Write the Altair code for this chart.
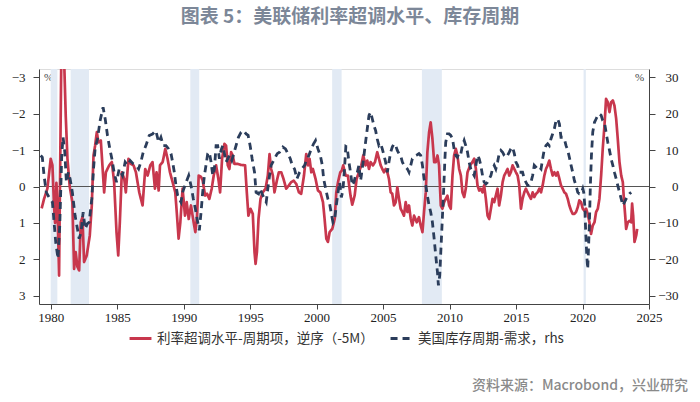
import altair as alt
import pandas as pd

TITLE = "图表 5：美联储利率超调水平、库存周期"
SOURCE = "资料来源：Macrobond，兴业研究"
RED_NAME = "利率超调水平-周期项，逆序（-5M）"
BLUE_NAME = "美国库存周期-需求，rhs"

# Recession shading (decimal years)
rec_start = [1980.0, 1981.5, 1990.5, 2001.17, 2007.92, 2020.08]
rec_end = [1980.5, 1982.88, 1991.17, 2001.88, 2009.42, 2020.25]

x_ticks = [1980, 1985, 1990, 1995, 2000, 2005, 2010, 2015, 2020, 2025]
left_ticks = [-3, -2, -1, 0, 1, 2, 3]
right_ticks = [30, 20, 10, 0, -10, -20, -30]

# Red series: rate overshoot level, cyclical component, inverted (left axis, %)
red_years = [
    1979.32, 1979.50, 1979.75, 1980.00, 1980.13, 1980.25, 1980.33, 1980.43, 1980.50, 1980.63,
    1980.70, 1980.80, 1981.00, 1981.13, 1981.26, 1981.43, 1981.63, 1981.76, 1981.88, 1982.01,
    1982.14, 1982.26, 1982.39, 1982.51, 1982.71, 1982.94, 1983.09, 1983.22, 1983.34, 1983.47,
    1983.59, 1983.77, 1983.89, 1984.02, 1984.15, 1984.40, 1984.60, 1984.77, 1984.95, 1985.08,
    1985.20, 1985.35, 1985.53, 1985.65, 1985.85, 1986.03, 1986.23, 1986.41, 1986.66, 1986.91,
    1987.11, 1987.29, 1987.49, 1987.66, 1987.84, 1987.96, 1988.12, 1988.22, 1988.42, 1988.62,
    1988.79, 1988.97, 1989.17, 1989.37, 1989.50, 1989.62, 1989.75, 1989.92, 1990.10, 1990.23,
    1990.38, 1990.55, 1990.75, 1990.88, 1991.01, 1991.13, 1991.31, 1991.43, 1991.61, 1991.76,
    1991.93, 1992.11, 1992.26, 1992.44, 1992.61, 1992.74, 1992.89, 1993.07, 1993.19, 1993.32,
    1993.44, 1993.57, 1993.69, 1993.82, 1994.07, 1994.32, 1994.62, 1994.75, 1994.87, 1995.03,
    1995.20, 1995.33, 1995.41, 1995.51, 1995.63, 1995.78, 1995.95, 1996.16, 1996.33, 1996.46,
    1996.58, 1996.71, 1996.83, 1997.01, 1997.16, 1997.34, 1997.51, 1997.71, 1997.91, 1998.09,
    1998.27, 1998.47, 1998.67, 1998.84, 1999.05, 1999.22, 1999.35, 1999.47, 1999.60, 1999.72,
    1999.92, 2000.10, 2000.28, 2000.48, 2000.60, 2000.73, 2000.85, 2000.98, 2001.18, 2001.36,
    2001.48, 2001.61, 2001.78, 2001.90, 2002.00, 2002.18, 2002.35, 2002.55, 2002.68, 2002.86,
    2003.01, 2003.18, 2003.36, 2003.51, 2003.68, 2003.81, 2003.94, 2004.06, 2004.24, 2004.39,
    2004.56, 2004.69, 2004.82, 2004.94, 2005.07, 2005.19, 2005.32, 2005.44, 2005.57, 2005.69,
    2005.82, 2005.95, 2006.07, 2006.20, 2006.32, 2006.45, 2006.57, 2006.70, 2006.83, 2006.95,
    2007.08, 2007.20, 2007.33, 2007.53, 2007.70, 2007.83, 2007.96, 2008.08, 2008.21, 2008.33,
    2008.46, 2008.58, 2008.71, 2008.84, 2008.96, 2009.09, 2009.21, 2009.34, 2009.46, 2009.59,
    2009.71, 2009.84, 2009.97, 2010.09, 2010.22, 2010.34, 2010.47, 2010.59, 2010.72, 2010.85,
    2010.97, 2011.10, 2011.22, 2011.35, 2011.55, 2011.72, 2011.85, 2011.98, 2012.10, 2012.23,
    2012.35, 2012.48, 2012.60, 2012.73, 2012.86, 2012.98, 2013.11, 2013.23, 2013.36, 2013.48,
    2013.61, 2013.73, 2013.86, 2013.99, 2014.11, 2014.24, 2014.36, 2014.49, 2014.61, 2014.74,
    2014.87, 2014.99, 2015.12, 2015.24, 2015.37, 2015.49, 2015.62, 2015.74, 2015.87, 2015.99,
    2016.12, 2016.25, 2016.37, 2016.50, 2016.62, 2016.75, 2016.88, 2017.00, 2017.13, 2017.25,
    2017.38, 2017.50, 2017.63, 2017.75, 2017.88, 2018.01, 2018.13, 2018.26, 2018.38, 2018.51,
    2018.63, 2018.76, 2018.89, 2019.01, 2019.14, 2019.26, 2019.39, 2019.51, 2019.64, 2019.76,
    2019.89, 2020.02, 2020.14, 2020.27, 2020.39, 2020.52, 2020.64, 2020.77, 2020.90, 2021.02,
    2021.15, 2021.27, 2021.40, 2021.52, 2021.65, 2021.77, 2021.90, 2022.03, 2022.15, 2022.28,
    2022.40, 2022.53, 2022.65, 2022.78, 2022.91, 2023.03, 2023.11, 2023.21, 2023.28, 2023.41,
    2023.53, 2023.66, 2023.73, 2023.81, 2023.91, 2024.04, 2024.11,
]
red_vals = [
    0.60, 0.34, 0.06, -0.76, -0.58, 0.52, 1.00, -0.10, 0.43, 2.44,
    -0.12, -3.60, -3.60, -1.95, -0.76, 0.00, 0.43, 2.26, 1.80, 2.20,
    2.30, 0.98, 0.84, 2.07, 1.89, 1.34, 0.52, -0.85, -1.12, -1.49,
    -1.21, -1.26, -0.58, 0.16, -0.39, -0.58, -0.67, -0.12, 1.25, 1.89,
    0.98, -0.39, -0.21, 0.16, -0.76, -0.62, -0.58, -0.39, 0.16, 0.52,
    -0.48, -0.30, -0.58, -0.67, 0.06, -0.39, 0.11, -0.58, -0.67, -1.03,
    -0.76, -0.39, -0.12, 0.16, 0.80, 1.43, 0.98, 0.06, 0.80, 0.43,
    0.89, 0.52, 0.98, 1.25, 0.80, -0.30, -0.26, -0.17, 0.25, 0.20,
    0.34, 0.06, -0.30, -0.58, -0.21, 0.16, -0.76, -1.17, -1.12, -0.58,
    -0.48, -0.94, -0.85, -0.62, -0.62, -0.59, -0.58, 0.16, 0.80, 0.61,
    0.75, 1.80, 2.12, 1.80, 0.89, 0.34, 0.16, 0.06, -0.30, -0.89,
    -0.48, -0.30, 0.16, -0.16, -0.39, -0.39, -0.21, 0.06, -0.03, -0.12,
    -0.16, -0.07, 0.16, 0.20, -0.30, -0.89, -0.58, -0.76, -0.39, -0.48,
    -0.21, 0.11, 0.16, 0.43, 0.89, 1.43, 1.52, 1.25, 1.16, 0.89,
    0.16, -0.12, -0.39, -0.44, -0.58, -0.30, -0.30, 0.25, 0.50, 0.25,
    -0.21, -0.39, -0.58, -0.85, -0.58, -0.71, -0.48, -0.67, -0.58, -0.67,
    -0.94, -0.76, -0.58, -0.48, -0.39, -0.48, -0.39, -0.21, 0.16, 0.20,
    0.52, 0.43, 0.02, 0.34, 0.61, 0.70, 0.80, 0.43, 0.70, 0.52,
    0.89, 1.07, 0.80, 0.98, 0.84, 1.07, 1.25, 0.70, 0.16, -0.94,
    -1.49, -1.76, -1.31, -0.67, -0.67, -0.85, -0.58, 0.52, 0.61, 0.43,
    0.34, 0.25, 0.52, 0.61, -0.30, -0.85, -1.03, -0.85, -0.48, -0.30,
    0.16, 0.29, 0.06, -0.39, -0.58, -0.67, -0.76, -0.48, -0.03, 0.11,
    0.06, 0.16, -0.03, 0.34, 0.80, 0.89, 0.61, 0.34, 0.43, 0.25,
    0.06, 0.52, 0.25, -0.12, -0.30, -0.39, -0.48, -0.30, -0.39, -0.58,
    -0.48, -0.39, -0.30, -0.03, 0.61, 0.34, 0.16, 0.06, 0.16, 0.25,
    0.34, 0.16, 0.29, 0.20, 0.16, 0.06, 0.16, -0.03, -0.30, -0.48,
    -0.58, -0.71, -0.48, -0.30, -0.39, -0.30, -0.39, -0.21, -0.03, 0.06,
    0.16, 0.20, 0.34, 0.52, 0.66, 0.75, 0.75, 0.70, 0.57, 0.38,
    0.43, 0.61, 0.66, 0.61, 0.75, 0.98, 1.30, 1.07, 0.98, 0.70,
    0.61, 0.34, -0.30, -1.03, -1.67, -2.40, -2.31, -2.04, -2.31, -2.36,
    -2.22, -1.86, -1.31, -0.67, -0.30, -0.12, 0.34, 0.80, 1.16, 0.98,
    0.94, 0.98, 0.47, 0.80, 1.52, 1.34, 1.16,
]

# Blue series: US inventory cycle - demand (right axis, %)
blue_years = [
    1979.25, 1979.37, 1979.50, 1979.67, 1979.87, 1980.13, 1980.38, 1980.55, 1980.68, 1980.83,
    1980.93, 1981.06, 1981.18, 1981.33, 1981.46, 1981.63, 1981.83, 1982.01, 1982.14, 1982.29,
    1982.44, 1982.59, 1982.76, 1982.89, 1983.09, 1983.22, 1983.34, 1983.52, 1983.72, 1983.94,
    1984.10, 1984.27, 1984.45, 1984.60, 1984.77, 1984.95, 1985.15, 1985.40, 1985.60, 1985.78,
    1985.98, 1986.21, 1986.41, 1986.61, 1986.78, 1986.96, 1987.16, 1987.41, 1987.66, 1987.91,
    1988.12, 1988.29, 1988.47, 1988.67, 1988.87, 1989.05, 1989.17, 1989.30, 1989.42, 1989.55,
    1989.67, 1989.80, 1989.92, 1990.10, 1990.23, 1990.38, 1990.55, 1990.73, 1990.88, 1991.06,
    1991.18, 1991.31, 1991.43, 1991.56, 1991.68, 1991.81, 1991.93, 1992.06, 1992.19, 1992.31,
    1992.44, 1992.56, 1992.69, 1992.81, 1992.94, 1993.07, 1993.19, 1993.32, 1993.44, 1993.62,
    1993.77, 1993.94, 1994.12, 1994.32, 1994.50, 1994.70, 1994.85, 1995.00, 1995.15, 1995.33,
    1995.45, 1995.63, 1995.75, 1995.90, 1996.08, 1996.21, 1996.33, 1996.46, 1996.58, 1996.83,
    1997.04, 1997.21, 1997.46, 1997.66, 1997.84, 1998.02, 1998.17, 1998.34, 1998.52, 1998.72,
    1998.89, 1999.10, 1999.22, 1999.42, 1999.60, 1999.77, 1999.92, 2000.10, 2000.28, 2000.43,
    2000.53, 2000.68, 2000.85, 2000.98, 2001.13, 2001.23, 2001.36, 2001.48, 2001.61, 2001.73,
    2001.86, 2001.98, 2002.08, 2002.20, 2002.30, 2002.43, 2002.55, 2002.68, 2002.81, 2002.93,
    2003.06, 2003.18, 2003.31, 2003.43, 2003.56, 2003.68, 2003.81, 2003.94, 2004.06, 2004.19,
    2004.31, 2004.44, 2004.56, 2004.69, 2004.82, 2004.94, 2005.07, 2005.19, 2005.32, 2005.44,
    2005.57, 2005.69, 2005.82, 2005.95, 2006.07, 2006.20, 2006.32, 2006.45, 2006.57, 2006.70,
    2006.83, 2006.95, 2007.08, 2007.20, 2007.33, 2007.45, 2007.58, 2007.70, 2007.83, 2007.96,
    2008.08, 2008.21, 2008.33, 2008.46, 2008.58, 2008.71, 2008.84, 2008.96, 2009.09, 2009.16,
    2009.26, 2009.34, 2009.41, 2009.49, 2009.56, 2009.64, 2009.71, 2009.84, 2009.97, 2010.09,
    2010.22, 2010.34, 2010.47, 2010.59, 2010.72, 2010.85, 2010.97, 2011.10, 2011.22, 2011.35,
    2011.47, 2011.60, 2011.72, 2011.85, 2011.98, 2012.10, 2012.23, 2012.35, 2012.48, 2012.60,
    2012.73, 2012.86, 2012.98, 2013.11, 2013.23, 2013.36, 2013.48, 2013.61, 2013.73, 2013.86,
    2013.99, 2014.11, 2014.24, 2014.36, 2014.49, 2014.61, 2014.74, 2014.87, 2014.99, 2015.12,
    2015.24, 2015.37, 2015.49, 2015.62, 2015.74, 2015.87, 2015.99, 2016.12, 2016.25, 2016.37,
    2016.50, 2016.62, 2016.75, 2016.88, 2017.00, 2017.13, 2017.25, 2017.38, 2017.50, 2017.63,
    2017.75, 2017.88, 2018.01, 2018.13, 2018.26, 2018.38, 2018.51, 2018.63, 2018.76, 2018.89,
    2019.01, 2019.14, 2019.26, 2019.39, 2019.51, 2019.64, 2019.76, 2019.89, 2020.02, 2020.09,
    2020.17, 2020.24, 2020.32, 2020.39, 2020.44, 2020.52, 2020.59, 2020.67, 2020.77, 2020.90,
    2021.02, 2021.15, 2021.27, 2021.40, 2021.52, 2021.65, 2021.77, 2021.90, 2022.03, 2022.15,
    2022.28, 2022.40, 2022.53, 2022.65, 2022.78, 2022.91, 2023.03, 2023.16, 2023.28, 2023.41,
    2023.53, 2023.66,
]
blue_vals = [
    8.5, 8.0, 3.0, -1.6, -2.9, -4.3, -15.3, -19.8, -10.7, 8.5,
    13.5, 9.4, 1.2, 3.9, 2.1, -1.6, -7.9, -11.6, -14.3, -12.5,
    -7.0, -11.6, -10.2, -9.8, -3.4, 4.8, 10.3, 13.1, 18.1, 21.7,
    18.5, 14.0, 10.3, 7.6, 3.9, 1.2, 4.8, 3.0, 6.7, 5.8,
    7.1, 6.2, 5.8, 4.8, 6.7, 9.4, 11.2, 14.0, 14.4, 15.3,
    12.1, 13.5, 11.2, 11.2, 10.3, 9.0, 6.7, 3.9, 0.3, -2.5,
    -3.4, -4.3, -1.6, 0.3, 1.6, 3.0, 0.3, -3.4, -6.1, -9.8,
    -12.0, -7.0, -1.6, 3.0, 5.8, 9.0, 9.4, 6.7, 3.0, 4.8,
    11.2, 11.2, 7.6, 9.9, 11.2, 9.0, 6.7, 7.6, 8.5, 7.1,
    9.0, 11.2, 13.5, 14.9, 15.3, 14.4, 14.0, 11.2, 7.6, 3.9,
    -1.6, -2.0, -0.6, -2.0, -3.4, -4.3, -0.6, 3.0, 5.8, 7.6,
    9.0, 9.4, 10.8, 10.3, 9.0, 7.6, 5.8, 4.8, 2.1, 3.9,
    4.8, 5.8, 7.1, 8.5, 10.3, 11.7, 12.6, 10.3, 8.5, 5.8,
    2.1, -0.6, -3.4, -4.7, -7.9, -9.8, -8.9, -5.2, -1.6, 1.2,
    -3.0, -1.0, 4.0, 11.0, 10.8, 6.7, 3.9, 0.3, 1.2, 3.0,
    3.9, 5.8, 1.6, 4.8, 8.5, 12.1, 15.8, 19.5, 20.4, 18.5,
    16.7, 15.3, 13.0, 11.2, 11.7, 10.3, 8.5, 6.7, 3.9, 6.7,
    9.4, 10.8, 11.7, 11.2, 9.9, 9.0, 8.5, 6.7, 5.8, 5.3,
    4.8, 3.9, 5.8, 7.6, 8.0, 8.5, 8.7, 9.0, 8.5, 5.8,
    2.1, 0.3, -2.5, -5.2, -7.0, -9.8, -14.3, -18.9, -23.5, -27.1,
    -24.4, -18.0, -12.5, -6.1, -0.6, 6.7, 12.1, 14.4, 14.4, 14.0,
    13.1, 10.3, 8.5, 8.0, 9.4, 9.0, 11.2, 12.6, 11.2, 9.4,
    6.7, 4.8, 3.9, 3.0, 5.8, 8.5, 7.6, 5.8, 3.0, 1.2,
    0.7, 1.2, 2.1, 3.0, 4.8, 5.8, 4.8, 6.7, 9.0, 9.9,
    9.4, 8.5, 8.0, 8.5, 9.4, 10.3, 10.8, 9.0, 6.7, 5.8,
    3.9, 3.9, 3.9, 2.1, 1.2, 0.3, 0.3, 1.2, 3.0, 5.8,
    5.3, 4.8, 5.3, 4.8, 7.6, 10.3, 11.2, 11.7, 11.2, 13.1,
    14.4, 15.8, 18.1, 18.5, 17.2, 13.5, 13.5, 13.1, 11.2, 9.9,
    8.0, 5.8, 3.9, 1.6, 0.3, -1.6, -2.0, -2.0, -0.6, -1.6,
    -5.2, -12.5, -18.9, -22.6, -18.0, -9.8, 0.3, 8.5, 14.9, 17.6,
    18.5, 19.5, 19.9, 19.5, 18.1, 17.6, 14.9, 12.1, 9.9, 7.6,
    5.8, 3.9, 2.1, 0.3, -1.6, -3.4, -5.2, -4.3, -3.4, -2.5,
    -2.0, -1.6,
]

RED = "#c8374d"
NAVY = "#2b3d5b"

lines = pd.concat([
    pd.DataFrame({"year": red_years, "value": red_vals, "series": RED_NAME}),
    pd.DataFrame({"year": blue_years, "value": blue_vals, "series": BLUE_NAME}),
])
rec = pd.DataFrame({"start": rec_start, "end": rec_end})
src = pd.DataFrame({"t": [SOURCE]})
zero = pd.DataFrame({"z": [0]})

x_scale = alt.Scale(domain=[1979.12, 2025.0], nice=False, zero=False)
left_scale = alt.Scale(domain=[-3.22, 3.22], reverse=True, nice=False, zero=False)
right_scale = alt.Scale(domain=[-32.2, 32.2], nice=False, zero=False)

AX_FONT = "Liberation Serif"
x_axis = alt.Axis(values=x_ticks, format="d", title=None, labelFont=AX_FONT, labelFontSize=13,
                  labelColor="#222", tickSize=5, tickColor="#444", domainColor="#444",
                  labelPadding=2, grid=False, labelFlush=False)

legend_cfg = dict(title=None, orient="none", legendX=89, legendY=257,
                  direction="horizontal", symbolType="stroke",
                  symbolStrokeWidth=3, symbolSize=480, labelFontSize=13.5,
                  labelFont="Noto Sans CJK SC", labelColor="#333", labelLimit=500,
                  columnPadding=10, labelOffset=4)

color_enc = alt.Color("series:N", scale=alt.Scale(domain=[RED_NAME, BLUE_NAME], range=[RED, NAVY]),
                      legend=alt.Legend(**legend_cfg))
dash_enc = alt.StrokeDash("series:N", scale=alt.Scale(domain=[RED_NAME, BLUE_NAME], range=[[1, 0], [7, 5]]),
                          legend=alt.Legend(**legend_cfg))

bands = alt.Chart(rec).mark_rect(color="#e2eaf4").encode(
    x=alt.X("start:Q", scale=x_scale, axis=x_axis),
    x2="end:Q",
)

zero_rule = alt.Chart(zero).mark_rule(color="#555", strokeWidth=1).encode(
    y=alt.Y("z:Q", scale=left_scale, axis=None),
)

red_line = alt.Chart(lines).transform_filter(alt.datum.series == RED_NAME).mark_line(
    strokeWidth=2.7, clip=True, strokeJoin="round"
).encode(
    x=alt.X("year:Q", scale=x_scale, axis=x_axis),
    y=alt.Y("value:Q", scale=left_scale,
            axis=alt.Axis(values=left_ticks, orient="left", title="%", titleAngle=0, titleX=9, titleY=8,
                          titleFont=AX_FONT, titleFontSize=11, titleFontWeight="normal", titleColor="#444",
                          titleAlign="center", titleBaseline="middle",
                          labelFont=AX_FONT, labelFontSize=13, labelColor="#222", tickSize=6,
                          tickColor="#444", domainColor="#444", labelPadding=8, grid=False)),
    color=color_enc,
    strokeDash=dash_enc,
)

blue_line = alt.Chart(lines).transform_filter(alt.datum.series == BLUE_NAME).mark_line(
    strokeWidth=2.8, clip=True, strokeCap="butt"
).encode(
    x=alt.X("year:Q", scale=x_scale, axis=x_axis),
    y=alt.Y("value:Q", scale=right_scale,
            axis=alt.Axis(values=right_ticks, orient="right", title="%", titleAngle=0, titleX=-10, titleY=8,
                          titleFont=AX_FONT, titleFontSize=11, titleFontWeight="normal", titleColor="#444",
                          titleAlign="center", titleBaseline="middle",
                          labelFont=AX_FONT, labelFontSize=13, labelColor="#222", tickSize=6,
                          tickColor="#444", domainColor="#444", labelAlign="right", labelPadding=23,
                          grid=False)),
    color=color_enc,
    strokeDash=dash_enc,
)

source_text = alt.Chart(src).mark_text(
    align="right", baseline="middle", font="Noto Sans CJK SC", fontSize=14, fontWeight=500,
    color="#8a8a8a"
).encode(x=alt.value(649), y=alt.value(317), text="t:N")

chart = alt.layer(bands, zero_rule, red_line, blue_line, source_text).resolve_scale(
    y="independent"
).properties(
    width=610, height=235,
    title=alt.TitleParams(TITLE, anchor="middle", frame="group", dx=6, offset=33, baseline="middle",
                          font="Noto Sans CJK SC", fontSize=19, fontWeight="bold", color="#7c8798"),
    autosize=alt.AutoSizeParams(type="none"),
    padding={"left": 39, "top": 69, "right": 51, "bottom": 98},
).configure_view(stroke=None).configure(background="white")

chart.save("out.html", embed_options={"renderer": "svg", "actions": False})
